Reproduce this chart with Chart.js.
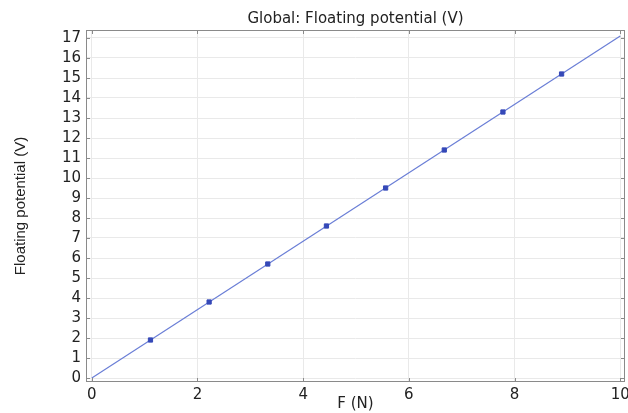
<!DOCTYPE html>
<html>
<head>
<meta charset="utf-8">
<script src="https://cdn.jsdelivr.net/npm/chart.js@4/dist/chart.umd.min.js"></script>
<style>
  html, body { margin: 0; padding: 0; background: #fff; }
  #wrap { width: 628px; height: 413px; }
</style>
</head>
<body>
<div id="wrap"><canvas id="chart" width="628" height="413"></canvas></div>
<script>
// data
const forceN = [1.11, 2.22, 3.33, 4.44, 5.56, 6.67, 7.78, 8.89];
const potentialV = [1.9, 3.8, 5.7, 7.6, 9.5, 11.4, 13.3, 15.2];
const lineX = [0, 10];
const lineY = [0, 17.1];
const xTicks = [0, 2, 4, 6, 8, 10];
const yTicks = [0, 1, 2, 3, 4, 5, 6, 7, 8, 9, 10, 11, 12, 13, 14, 15, 16, 17];
const chartTitle = 'Global: Floating potential (V)';

const lineColor = '#6a7ed6';
const markColor = '#3549b8';

// frame, inward ticks and a title centred on the plot area
const frame = {
    id: 'frame',
    afterDraw(chart) {
        const { ctx, chartArea: a, scales } = chart;
        ctx.save();
        ctx.strokeStyle = '#8a8a8a';
        ctx.lineWidth = 1;
        ctx.strokeRect(a.left + 0.5, a.top + 0.5, a.right - a.left - 1, a.bottom - a.top - 1);
        ctx.beginPath();
        scales.x.ticks.forEach((t, i) => {
            const p = Math.round(scales.x.getPixelForTick(i)) + 0.5;
            ctx.moveTo(p, a.bottom); ctx.lineTo(p, a.bottom - 4);
            ctx.moveTo(p, a.top); ctx.lineTo(p, a.top + 4);
        });
        scales.y.ticks.forEach((t, i) => {
            const p = Math.round(scales.y.getPixelForTick(i)) + 0.5;
            ctx.moveTo(a.left, p); ctx.lineTo(a.left + 4, p);
            ctx.moveTo(a.right, p); ctx.lineTo(a.right - 4, p);
        });
        ctx.stroke();

        ctx.fillStyle = '#222';
        ctx.font = '15px "DejaVu Sans"';
        ctx.textAlign = 'center';
        ctx.textBaseline = 'middle';
        ctx.fillText(chartTitle, (a.left + a.right) / 2, 19);
        ctx.restore();
    }
};

new Chart(document.getElementById('chart'), {
    type: 'scatter',
    data: {
        datasets: [
            {
                data: lineX.map((x, i) => ({ x: x, y: lineY[i] })),
                showLine: true,
                borderColor: lineColor,
                borderWidth: 1.2,
                pointRadius: 0,
                order: 2
            },
            {
                data: forceN.map((x, i) => ({ x: x, y: potentialV[i] })),
                showLine: false,
                pointStyle: 'rect',
                pointRadius: 3,
                backgroundColor: markColor,
                borderColor: markColor,
                borderWidth: 1,
                order: 1
            }
        ]
    },
    options: {
        responsive: false,
        animation: false,
        layout: { padding: { left: 0, right: 3, top: 30, bottom: 0 }, autoPadding: false },
        plugins: {
            legend: { display: false },
            tooltip: { enabled: false },
            title: { display: false }
        },
        scales: {
            x: {
                type: 'linear',
                min: -0.11,
                max: 10.09,
                afterBuildTicks: s => { s.ticks = xTicks.map(v => ({ value: v })); },
                afterFit: s => {
                    s.height = 31;
                    s.paddingLeft = 0;
                    s.paddingRight = 0;
                },
                ticks: {
                    color: '#222',
                    font: { family: 'DejaVu Sans', size: 15 },
                    padding: 4,
                    maxRotation: 0,
                    autoSkip: false
                },
                grid: { color: '#e9e9e9', drawTicks: false },
                border: { display: false },
                title: {
                    display: true,
                    text: 'F (N)',
                    color: '#222',
                    font: { family: 'DejaVu Sans', size: 15 },
                    padding: { top: 0, bottom: 0 }
                }
            },
            y: {
                type: 'linear',
                min: -0.2,
                max: 17.4,
                afterBuildTicks: s => { s.ticks = yTicks.map(v => ({ value: v })); },
                afterFit: s => {
                    s.width = 86;
                    s.paddingTop = 0;
                    s.paddingBottom = 0;
                },
                ticks: {
                    color: '#222',
                    font: { family: 'DejaVu Sans', size: 15 },
                    padding: 5,
                    autoSkip: false
                },
                grid: { color: '#e9e9e9', drawTicks: false },
                border: { display: false },
                title: {
                    display: true,
                    text: 'Floating potential (V)',
                    color: '#222',
                    font: { family: 'Liberation Sans', size: 15 },
                    padding: { top: 12, bottom: 18 }
                }
            }
        }
    },
    plugins: [frame]
});
</script>
</body>
</html>
